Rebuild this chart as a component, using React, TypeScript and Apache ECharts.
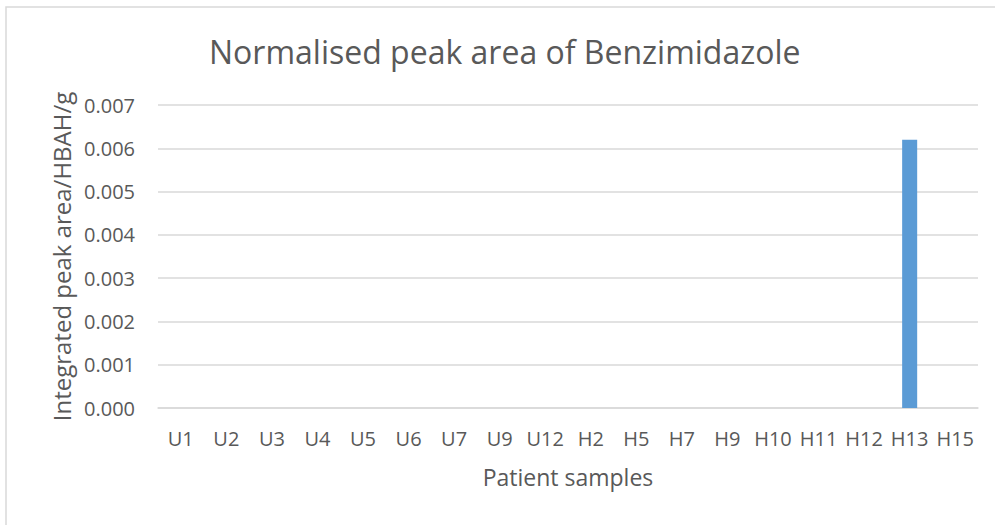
import React, { useEffect, useRef } from "react";
import * as echarts from "echarts";

const categories = ["U1", "U2", "U3", "U4", "U5", "U6", "U7", "U9", "U12", "H2", "H5", "H7", "H9", "H10", "H11", "H12", "H13", "H15"];
const values = [0, 0, 0, 0, 0, 0, 0, 0, 0, 0, 0, 0, 0, 0, 0, 0, 0.0062, 0];
const chartTitle = "Normalised peak area of Benzimidazole";
const xName = "Patient samples";
const yName = "Integrated peak area/HBAH/g";

const FONT = "'Open Sans', 'Noto Sans', sans-serif";
const TXT = "#595959";
const GRID = "#d9d9d9";

export default function App() {
  const ref = useRef<HTMLDivElement>(null);
  useEffect(() => {
    if (!ref.current) return;
    const chart = echarts.init(ref.current, null, { renderer: "svg" });
    chart.setOption({
      animation: false,
      backgroundColor: "#ffffff",
      textStyle: { fontFamily: FONT },
      title: {
        text: chartTitle,
        left: 204,
        top: 30,
        textStyle: { fontSize: 32, fontWeight: "normal", color: TXT, fontFamily: FONT },
      },
      graphic: [
        {
          type: "rect",
          shape: { x: 6, y: 7, width: 1100, height: 700 },
          style: { fill: "none", stroke: GRID, lineWidth: 1.5 },
          silent: true,
        },
      ],
      grid: { left: 158, right: 17, top: 105, bottom: 117 },
      xAxis: {
        type: "category",
        data: categories,
        name: xName,
        nameLocation: "middle",
        nameGap: 57,
        nameTextStyle: { fontSize: 23, color: TXT, fontFamily: FONT },
        axisLine: { show: true, lineStyle: { color: GRID, width: 1.5 } },
        axisTick: { show: false },
        axisLabel: { color: TXT, fontSize: 20, margin: 20, fontFamily: FONT, interval: 0 },
      },
      yAxis: {
        type: "value",
        min: 0,
        max: 0.007,
        interval: 0.001,
        name: yName,
        nameLocation: "middle",
        nameGap: 85,
        nameTextStyle: { fontSize: 24, color: TXT, fontFamily: FONT },
        axisLine: { show: false },
        axisTick: { show: false },
        splitLine: { lineStyle: { color: GRID, width: 1.5 } },
        axisLabel: {
          color: TXT,
          fontSize: 20,
          margin: 23,
          fontFamily: FONT,
          formatter: (v: number) => v.toFixed(3),
        },
      },
      series: [
        {
          type: "bar",
          data: values,
          barWidth: "33%",
          itemStyle: { color: "#5b9bd5" },
        },
      ],
    });
    return () => chart.dispose();
  }, []);
  return (
    <div
      ref={ref}
      style={{ position: "fixed", left: 0, top: 0, width: 995, height: 525, background: "#fff" }}
    />
  );
}
